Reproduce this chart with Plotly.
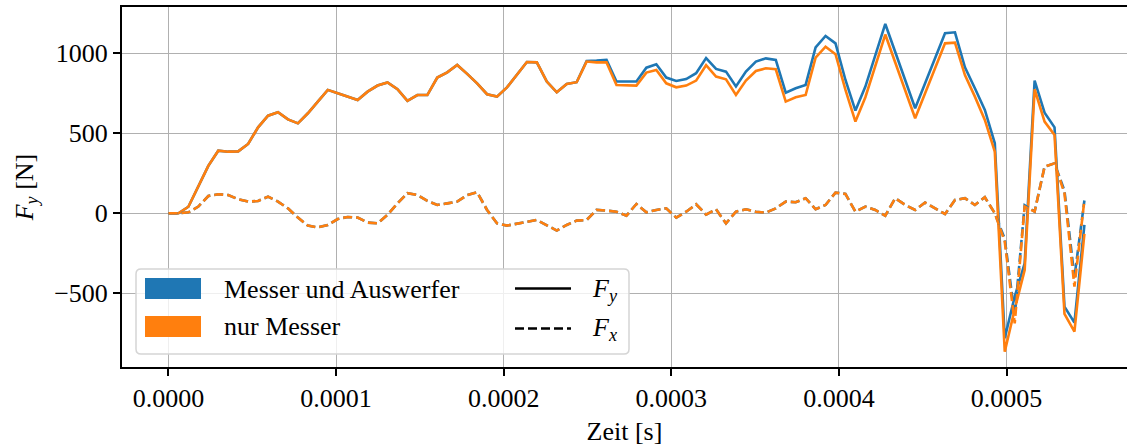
import plotly.graph_objects as go

# ---------------- data ----------------
DT = 5.94e-6  # sample interval [s]
n_samples = 93
zeit = [i * DT for i in range(n_samples)]

# Messer und Auswerfer (blue)
fy_mua = [0, 0, 41, 168, 296, 391, 385, 387, 433, 537,
          610, 631, 587, 562, 625, 698, 771, 750, 729, 708,
          760, 798, 817, 775, 702, 739, 739, 848, 881, 927,
          871, 812, 744, 729, 787, 864, 945, 943, 823, 756,
          808, 819, 952, 954, 958, 823, 823, 823, 910, 931,
          848, 827, 839, 875, 970, 902, 885, 792, 885, 948,
          968, 958, 754, 781, 802, 1037, 1108, 1062, 833, 642,
          792, 989, 1183, 1008, 833, 656, 812, 968, 1125, 1131,
          912, 781, 646, 437, -780, -520, -313, 829, 629, 537,
          -583, -683, -73]
fx_mua = [0, 0, 6, 42, 108, 119, 114, 88, 73, 77,
          104, 73, 31, -27, -77, -88, -73, -36, -23, -27,
          -58, -63, -10, 62, 125, 114, 77, 52, 62, 73,
          114, 131, 21, -63, -77, -63, -53, -42, -73, -108,
          -73, -46, -42, 21, 17, 10, -15, 58, 6, 21,
          31, -27, 10, 56, -8, 25, -63, 10, 25, 10,
          4, 31, 73, 69, 94, 25, 52, 129, 121, 10,
          42, 21, -15, 94, 52, 21, 67, 31, -4, 83,
          94, 52, 100, 0, -160, -640, 50, 10, 291, 312,
          140, -400, 80]

# nur Messer (orange)
fy_nm = [0, 0, 41, 168, 296, 391, 385, 387, 433, 537,
         610, 631, 587, 562, 625, 698, 771, 750, 729, 708,
         760, 798, 817, 775, 702, 739, 739, 848, 881, 927,
         871, 812, 744, 729, 787, 864, 945, 943, 823, 756,
         808, 819, 948, 943, 943, 802, 798, 798, 879, 896,
         812, 787, 798, 829, 925, 854, 837, 739, 829, 889,
         906, 900, 698, 725, 739, 973, 1041, 994, 771, 573,
         725, 921, 1117, 942, 767, 594, 750, 906, 1062, 1066,
         864, 729, 583, 385, -865, -600, -354, 775, 573, 489,
         -629, -740, -129]
fx_nm = [0, 0, 6, 42, 108, 119, 114, 88, 73, 77,
         104, 73, 31, -27, -77, -88, -73, -36, -23, -27,
         -58, -63, -10, 62, 125, 114, 77, 52, 62, 73,
         114, 131, 21, -63, -77, -63, -53, -42, -73, -108,
         -73, -46, -42, 21, 17, 10, -15, 58, 6, 21,
         31, -27, 10, 56, -8, 25, -63, 10, 25, 10,
         4, 31, 73, 69, 94, 25, 52, 129, 121, 10,
         42, 21, -15, 94, 52, 21, 67, 31, -4, 83,
         94, 52, 100, 0, -177, -688, 42, 10, 291, 312,
         125, -458, 83]

x_tickvals = [0.0, 0.0001, 0.0002, 0.0003, 0.0004, 0.0005]
x_ticktext = ["0.0000", "0.0001", "0.0002", "0.0003", "0.0004", "0.0005"]
y_tickvals = [-500, 0, 500, 1000]
y_ticktext = ["\u2212500", "0", "500", "1000"]

series_names = ["Messer und Auswerfer", "nur Messer"]
BLUE = "#1f77b4"
ORANGE = "#ff7f0e"

# ---------------- figure ----------------
W, H = 1127, 446
ML, MR, MT, MB = 122, 0, 7, 79
PW, PH = W - ML - MR, H - MT - MB
FONT = "Liberation Serif, Times New Roman, serif"
FS = 26
LW = 2.6
DASH = "9px,4px"

fig = go.Figure()
fig.add_trace(go.Scatter(x=zeit, y=fy_mua, mode="lines", line=dict(color=BLUE, width=LW), showlegend=False))
fig.add_trace(go.Scatter(x=zeit, y=fy_nm, mode="lines", line=dict(color=ORANGE, width=LW), showlegend=False))
fig.add_trace(go.Scatter(x=zeit, y=fx_mua, mode="lines", line=dict(color=BLUE, width=LW, dash=DASH), showlegend=False))
fig.add_trace(go.Scatter(x=zeit, y=fx_nm, mode="lines", line=dict(color=ORANGE, width=LW, dash=DASH), showlegend=False))


def px(xp):
    return (xp - ML) / PW


def py(yp):
    return (H - MB - yp) / PH


# legend (manual, matplotlib style)
x0, x1, y0, y1, r = 136, 629, 269, 354, 5
rx, ry = r / PW, r / PH
path = (f"M {px(x0)+rx},{py(y0)} L {px(x1)-rx},{py(y0)} Q {px(x1)},{py(y0)} {px(x1)},{py(y0)-ry} "
        f"L {px(x1)},{py(y1)+ry} Q {px(x1)},{py(y1)} {px(x1)-rx},{py(y1)} "
        f"L {px(x0)+rx},{py(y1)} Q {px(x0)},{py(y1)} {px(x0)},{py(y1)+ry} "
        f"L {px(x0)},{py(y0)-ry} Q {px(x0)},{py(y0)} {px(x0)+rx},{py(y0)} Z")
shapes = [dict(type="path", path=path, xref="paper", yref="paper",
               fillcolor="rgba(255,255,255,0.8)", line=dict(color="#d5d5d5", width=1.5), layer="above")]
for color, (ya, yb) in zip([BLUE, ORANGE], [(278, 299), (316, 337)]):
    shapes.append(dict(type="rect", xref="paper", yref="paper", x0=px(145), x1=px(201), y0=py(yb), y1=py(ya),
                       fillcolor=color, line=dict(width=0), layer="above"))
shapes.append(dict(type="line", xref="paper", yref="paper", x0=px(515), x1=px(571), y0=py(288.5), y1=py(288.5),
                   line=dict(color="black", width=LW), layer="above"))
shapes.append(dict(type="line", xref="paper", yref="paper", x0=px(515), x1=px(571), y0=py(328.5), y1=py(328.5),
                   line=dict(color="black", width=LW, dash=DASH), layer="above"))

annotations = []
for name, yc in zip(series_names, [289, 326]):
    annotations.append(dict(text=name, x=px(222), y=py(yc), xref="paper", yref="paper",
                            xanchor="left", yanchor="middle", showarrow=False,
                            font=dict(family=FONT, size=FS, color="black")))
for txt, yc in [("<i>F</i><sub><i>y</i></sub>", 290), ("<i>F</i><sub><i>x</i></sub>", 329)]:
    annotations.append(dict(text=txt, x=px(590), y=py(yc), xref="paper", yref="paper",
                            xanchor="left", yanchor="middle", showarrow=False,
                            font=dict(family=FONT, size=FS, color="black")))

fig.update_layout(
    width=W, height=H,
    margin=dict(l=ML, r=MR, t=MT, b=MB, pad=0),
    paper_bgcolor="white", plot_bgcolor="white",
    font=dict(family=FONT, size=FS, color="black"),
    shapes=shapes, annotations=annotations,
    showlegend=False,
)
fig.update_xaxes(
    range=[-0.00002774, 0.0005719],
    tickvals=x_tickvals, ticktext=x_ticktext,
    showgrid=True, gridcolor="#b0b0b0", gridwidth=1, zeroline=False,
    showline=True, linecolor="black", linewidth=2, mirror=True,
    ticks="outside", ticklen=7, tickwidth=1.6, tickcolor="black",
    title=dict(text="Zeit [s]", font=dict(family=FONT, size=FS), standoff=10),
)
fig.update_yaxes(
    range=[-960.6, 1289],
    tickvals=y_tickvals, ticktext=y_ticktext,
    showgrid=True, gridcolor="#b0b0b0", gridwidth=1, zeroline=False,
    showline=True, linecolor="black", linewidth=2, mirror=False,
    ticks="outside", ticklen=7, tickwidth=1.6, tickcolor="black",
    title=dict(text="<i>F</i><sub><i>y</i></sub> [N]", font=dict(family=FONT, size=FS), standoff=13),
)

fig.write_html("out.html")
